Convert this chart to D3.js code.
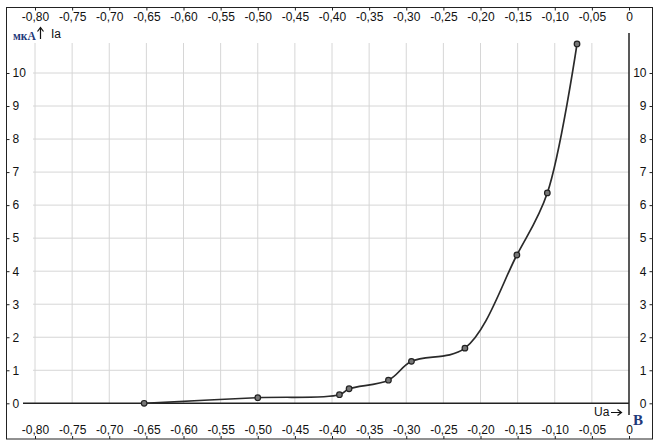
<!DOCTYPE html>
<html><head><meta charset="utf-8">
<script src="https://cdn.jsdelivr.net/npm/d3@7"></script>
<style>body{margin:0;background:#fff}svg{display:block}</style>
</head><body>
<svg id="c" width="660" height="447"></svg>
<script>
const uaValues = [-0.653, -0.50, -0.39, -0.377, -0.324, -0.293, -0.221, -0.151, -0.11, -0.07];
const iaValues = [0, 0.17, 0.26, 0.44, 0.70, 1.27, 1.67, 4.49, 6.37, 10.88];
const xTicks = d3.range(-16, 1).map(i => i * 0.05);
const yTicks = d3.range(0, 11);
const xUnit = "В", yUnit = "мкА", xName = "Ua", yName = "Ia";

const svg = d3.select("#c");
const font = "'Liberation Sans', Arial, sans-serif";
const x = d3.scaleLinear().domain([-0.8, 0]).range([35, 629]);
const y = d3.scaleLinear().domain([0, 10]).range([403.3, 73]);
const fmtX = v => Math.abs(v) < 1e-9 ? "0" : d3.format(".2f")(v).replace("−", "-").replace(".", ",");

// grid
const g = svg.append("g");
g.selectAll("line.v").data(xTicks.filter(v => v < -1e-9)).join("line")
  .attr("x1", d => x(d)).attr("x2", d => x(d)).attr("y1", 43).attr("y2", y(0))
  .attr("stroke", "#d6d6d6").attr("stroke-width", 1);
g.selectAll("line.h").data(yTicks.filter(v => v > 0)).join("line")
  .attr("x1", 33).attr("x2", x(0)).attr("y1", d => y(d)).attr("y2", d => y(d))
  .attr("stroke", "#d6d6d6").attr("stroke-width", 1);

// frame
svg.append("rect").attr("x", 6.5).attr("y", 7.5).attr("width", 646).attr("height", 431.5)
  .attr("fill", "none").attr("stroke", "#222").attr("stroke-width", 1);

function styleAxis(sel) {
  sel.select(".domain").remove();
  sel.selectAll("text").attr("font-family", font).attr("font-size", 12).attr("fill", "#111");
  sel.selectAll("line").attr("stroke", "#222");
}
svg.append("g").attr("transform", "translate(0,7.5)")
  .call(d3.axisBottom(x).tickValues(xTicks).tickFormat(fmtX).tickSize(3).tickPadding(2))
  .call(styleAxis);
svg.append("g").attr("transform", "translate(0,439)")
  .call(d3.axisTop(x).tickValues(xTicks).tickFormat(fmtX).tickSize(3).tickPadding(2))
  .call(styleAxis);
svg.append("g").attr("transform", "translate(6.5,0)")
  .call(d3.axisRight(y).tickValues(yTicks).tickFormat(d3.format("d")).tickSize(3).tickPadding(3))
  .call(styleAxis);
svg.append("g").attr("transform", "translate(652.5,0)")
  .call(d3.axisLeft(y).tickValues(yTicks).tickFormat(d3.format("d")).tickSize(3).tickPadding(3))
  .call(styleAxis);

// main axes
svg.append("line").attr("x1", 23).attr("x2", x(0)).attr("y1", y(0)).attr("y2", y(0))
  .attr("stroke", "#222").attr("stroke-width", 1.5);
svg.append("line").attr("x1", x(0)).attr("x2", x(0)).attr("y1", 33).attr("y2", 415)
  .attr("stroke", "#222").attr("stroke-width", 1.5);

// curve
const pts = uaValues.map((u, i) => [u, iaValues[i]]);
svg.append("path").datum(pts)
  .attr("d", d3.line().x(d => x(d[0])).y(d => y(d[1])).curve(d3.curveCatmullRom.alpha(0.5)))
  .attr("fill", "none").attr("stroke", "#2a2a2a").attr("stroke-width", 1.7);
svg.selectAll("circle.p").data(pts).join("circle")
  .attr("cx", d => x(d[0])).attr("cy", d => y(d[1])).attr("r", 2.8)
  .attr("fill", "#777").attr("stroke", "#222").attr("stroke-width", 1.2);

// axis names
const serif = "'Liberation Serif', 'Times New Roman', serif";
svg.append("text").attr("x", 13).attr("y", 40).text(yUnit)
  .attr("font-family", serif).attr("font-weight", "bold")
  .attr("font-size", 11.5).attr("fill", "#1f3a7a");
svg.append("path").attr("d", "M40.5,39 V28 M37.5,31.5 L40.5,27.5 L43.5,31.5")
  .attr("fill", "none").attr("stroke", "#111").attr("stroke-width", 1.2);
svg.append("text").attr("x", 51).attr("y", 38).text(yName)
  .attr("font-family", font).attr("font-size", 12).attr("fill", "#111");
svg.append("text").attr("x", 594).attr("y", 416).text(xName)
  .attr("font-family", font).attr("font-size", 12).attr("fill", "#111");
svg.append("path").attr("d", "M611,412.5 H621 M617.5,409.5 L621.5,412.5 L617.5,415.5")
  .attr("fill", "none").attr("stroke", "#111").attr("stroke-width", 1.2);
svg.append("text").attr("x", 633).attr("y", 425).text(xUnit)
  .attr("font-family", serif).attr("font-weight", "bold")
  .attr("font-size", 15).attr("fill", "#1f3a7a");
</script>
</body></html>
